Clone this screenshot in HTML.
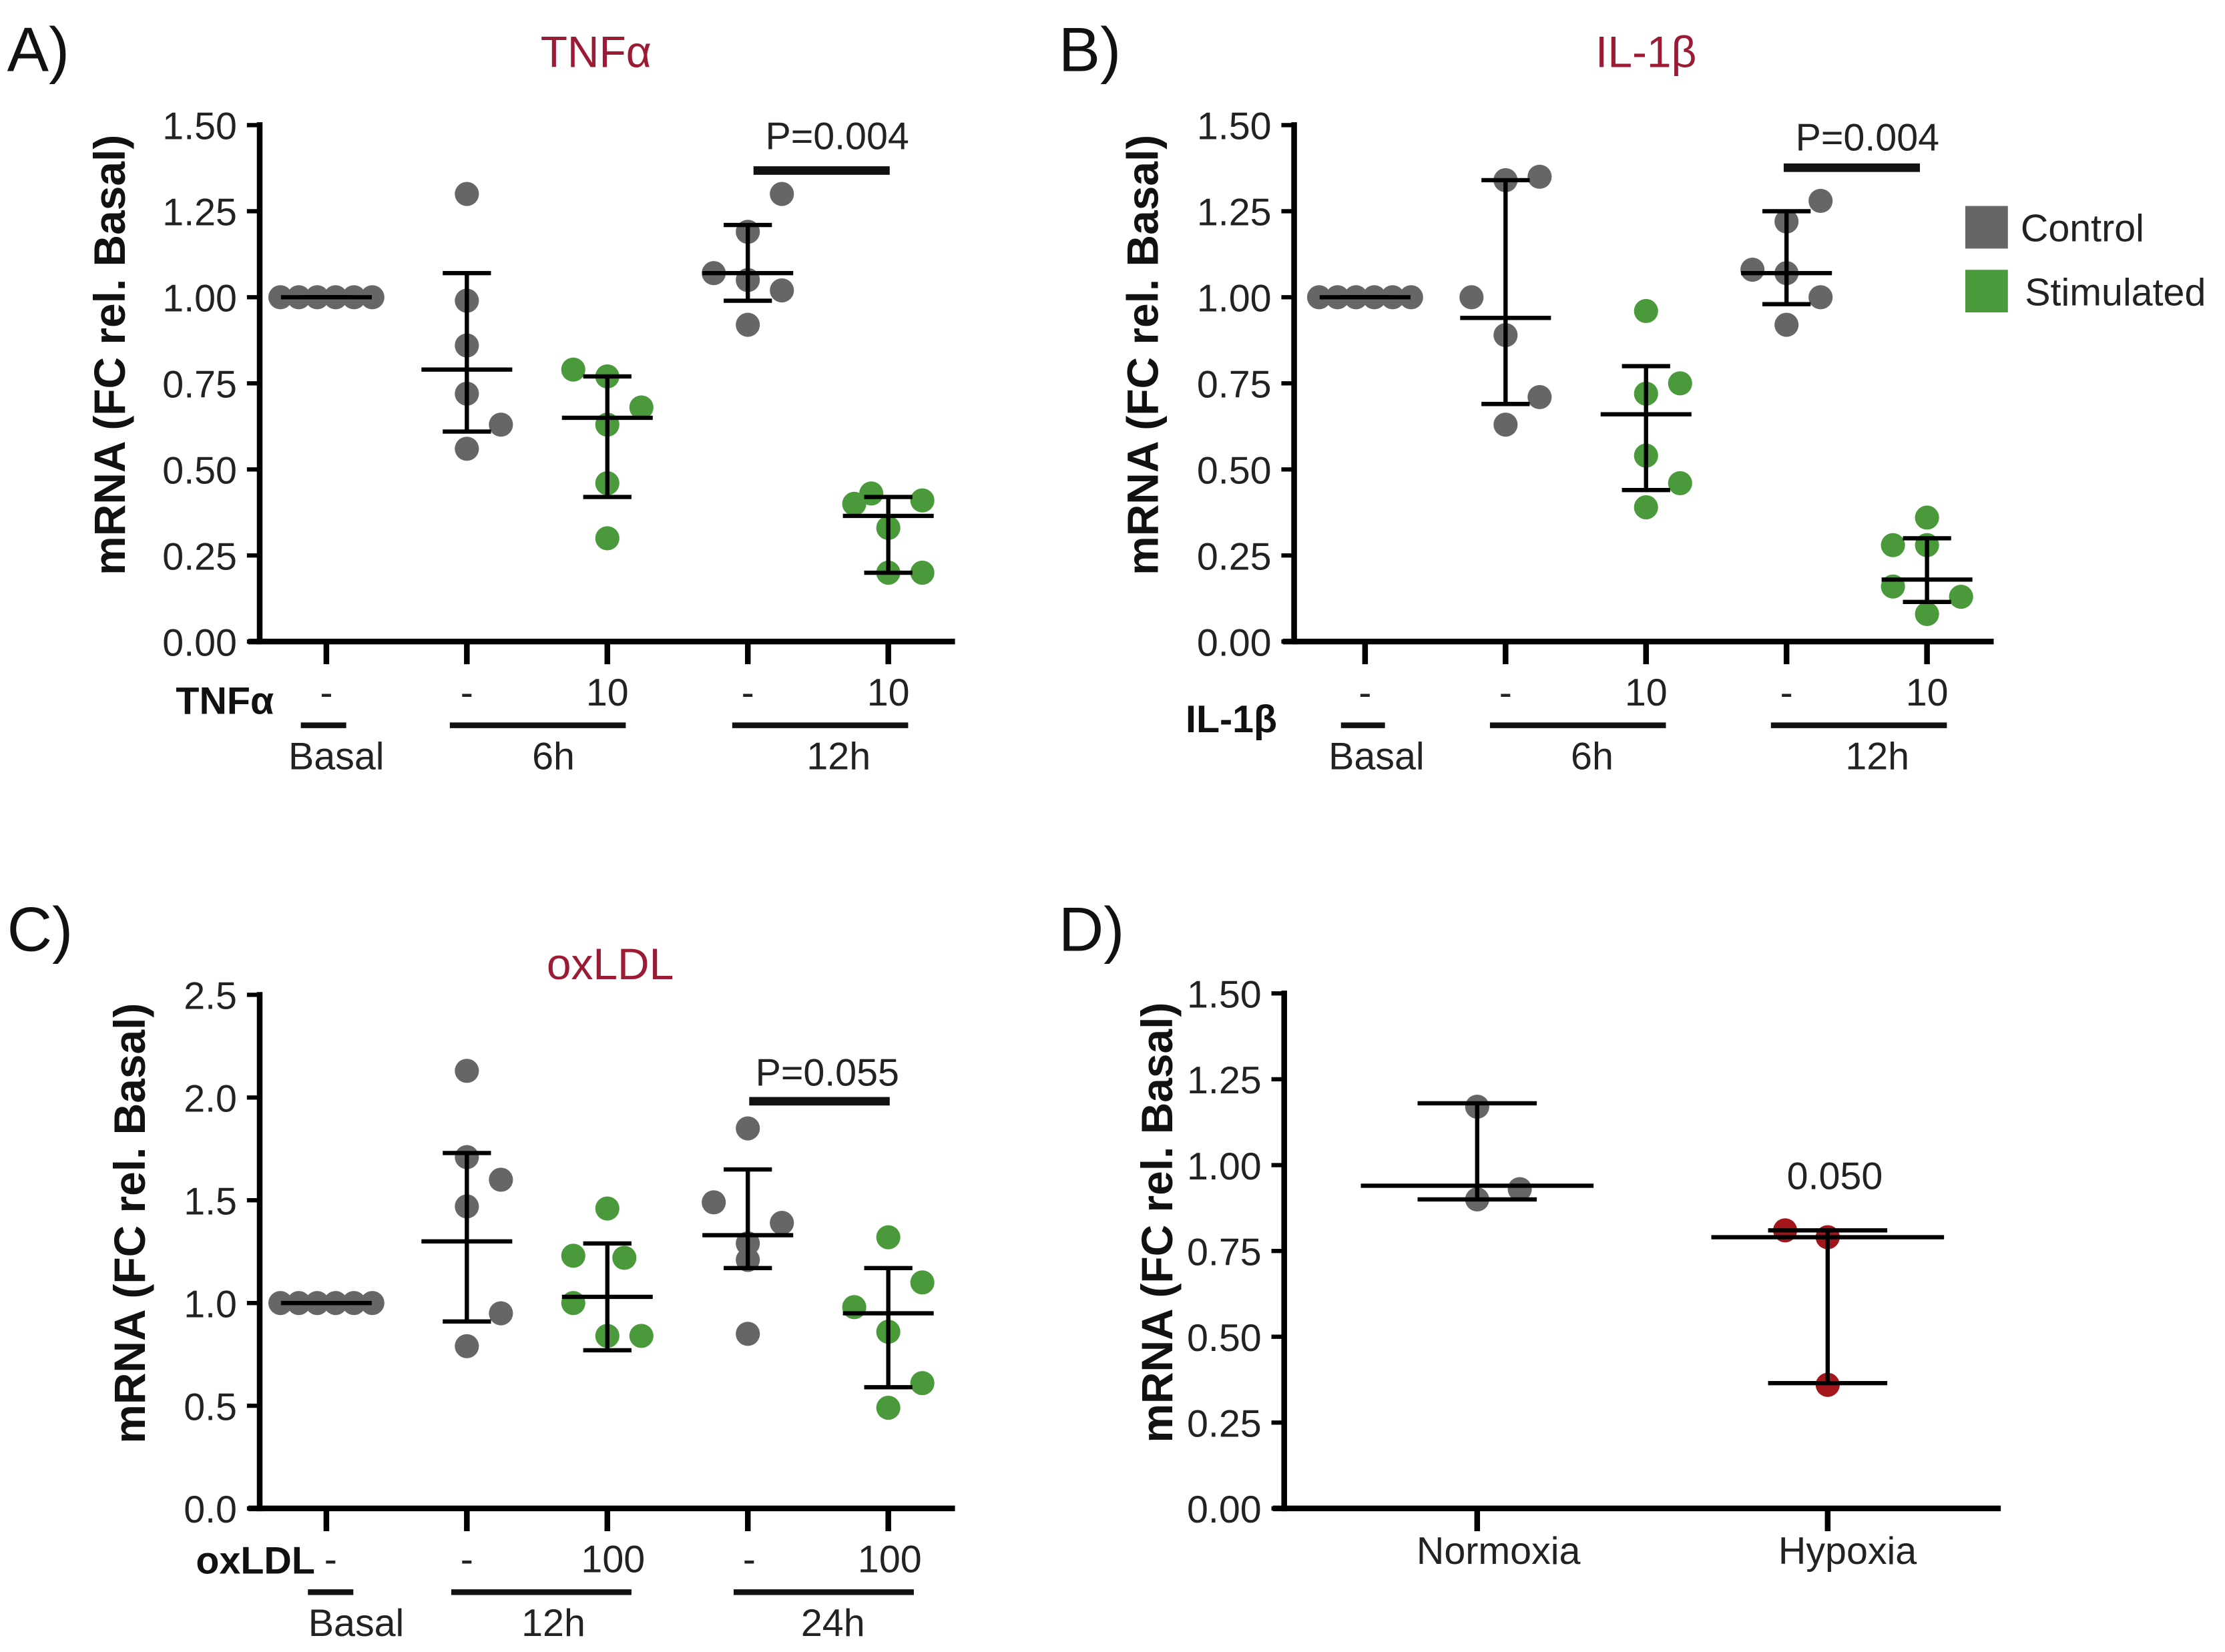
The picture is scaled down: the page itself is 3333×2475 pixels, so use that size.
<!DOCTYPE html>
<html><head><meta charset="utf-8">
<style>
html,body{margin:0;padding:0;background:#fff;}
svg{display:block;font-family:"Liberation Sans",sans-serif;}
</style></head>
<body>
<svg id="fig" width="3333" height="2475" viewBox="0 0 1568 1164" xmlns="http://www.w3.org/2000/svg"></svg>
<script>
// ---- Panel A (TNFα) data ----
const aGroups = ["Basal","6h -","6h 10","12h -","12h 10"];
const aPoints = [[1,1,1,1,1,1],[1.30,0.99,0.86,0.72,0.63,0.56],[0.79,0.77,0.68,0.63,0.46,0.30],[1.30,1.19,1.07,1.05,1.02,0.92],[0.43,0.40,0.41,0.33,0.20,0.20]];
const aMean = [1.00,0.79,0.65,1.07,0.365];
const aHi = [1.00,1.07,0.77,1.21,0.42];
const aLo = [1.00,0.61,0.42,0.99,0.20];
// ---- Panel B (IL-1β) data ----
const bPoints = [[1,1,1,1,1,1],[1.35,1.34,1.00,0.89,0.71,0.63],[0.96,0.72,0.75,0.54,0.46,0.39],[1.28,1.22,1.08,1.07,1.00,0.92],[0.36,0.28,0.28,0.16,0.13,0.08]];
const bMean = [1.00,0.94,0.66,1.07,0.18];
const bHi = [1.00,1.34,0.80,1.25,0.30];
const bLo = [1.00,0.69,0.44,0.98,0.115];
// ---- Panel C (oxLDL) data ----
const cPoints = [[1,1,1,1,1,1],[2.13,1.71,1.60,1.47,0.95,0.79],[1.46,1.23,1.22,1.00,0.84,0.84],[1.85,1.49,1.39,1.29,1.21,0.85],[1.32,1.10,0.98,0.86,0.61,0.49]];
const cMean = [1.00,1.30,1.03,1.33,0.95];
const cHi = [1.00,1.73,1.29,1.65,1.17];
const cLo = [1.00,0.91,0.77,1.17,0.59];
// ---- Panel D data ----
const dCats = ["Normoxia","Hypoxia"];
const dPoints = [[1.17,0.90,0.93],[0.81,0.79,0.36]];
const dMean = [0.94,0.79];
const dHi = [1.18,0.81];
const dLo = [0.90,0.365];
const tickA = ["0.00","0.25","0.50","0.75","1.00","1.25","1.50"];
const tickC = ["0.0","0.5","1.0","1.5","2.0","2.5"];

// layout-only jitter (in dot-widths)
const BAS=[-1.35,-0.81,-0.27,0.27,0.81,1.35];
const aOffs=[BAS,[0,0,0,0,1,0],[-1,0,1,0,0,0],[1,0,-1,0,1,0],[-0.5,-1,1,0,0,1]];
const bOffs=[BAS,[1,0,-1,0,1,0],[0,0,1,0,1,0],[1,0,-1,0,1,0],[0,-1,0,-1,1,0]];
const cOffs=[BAS,[0,0,1,0,1,0],[0,-1,0.5,-1,0,1],[0,-1,1,0,0,0],[0,1,-1,0,1,0]];

const NS="http://www.w3.org/2000/svg";
const svg=document.getElementById('fig');
const GRAY="#666666", GREEN="#4a9a3c", RED="#a3161b", TITLE="#9b1b35";
function el(tag,attrs,parent){const e=document.createElementNS(NS,tag);for(const k in attrs)e.setAttribute(k,attrs[k]);(parent||svg).appendChild(e);return e;}
function txt(s,x,y,size,opts,parent){opts=opts||{};const t=el('text',{x:x,y:y,'font-size':size,'text-anchor':opts.anchor||'middle',fill:opts.fill||'#222','font-weight':opts.bold?'bold':'normal'},parent);if(opts.rot)t.setAttribute('transform','rotate(-90 '+x+' '+y+')');t.textContent=s;return t;}

function panel(cfg){
  const g=el('g',{});
  
  
  const y=v=>cfg.y0-(v-cfg.vmin)/(cfg.vmax-cfg.vmin)*(cfg.y0-cfg.y1);
  const ya=el('line',{x1:cfg.ax,y1:cfg.y1-2,x2:cfg.ax,y2:cfg.y0+2,stroke:'#000','stroke-width':4},g);
  
  const xa=el('line',{x1:cfg.ax-8,y1:cfg.y0,x2:cfg.xend,y2:cfg.y0,stroke:'#000','stroke-width':4},g);
  
  cfg.ticks.forEach(t=>{const v=parseFloat(t);const yy=y(v);
    el('line',{x1:cfg.ax-9,y1:yy,x2:cfg.ax,y2:yy,stroke:'#000','stroke-width':3},g);
    const tl=txt(t,cfg.ax-16,yy+10,27,{anchor:'end'},g);
    });
  const yt=txt('mRNA (FC rel. Basal)',cfg.ytx,(cfg.y0+cfg.y1)/2-20,31,{bold:true,rot:true,fill:'#111'},g);
  
  cfg.xs.forEach((x,i)=>{
    el('line',{x1:x,y1:cfg.y0,x2:x,y2:cfg.y0+16,stroke:'#000','stroke-width':4},g);
    const col=cfg.colors[i];
    const vals=cfg.points[i];const off=cfg.offs[i];
    vals.forEach((v,k)=>{const c=el('circle',{cx:x+off[k]*cfg.jw,cy:y(v),r:8.5,fill:col},g);
      });
    el('line',{x1:x,y1:y(cfg.hi[i]),x2:x,y2:y(cfg.lo[i]),stroke:'#000','stroke-width':3},g);
    el('line',{x1:x-cfg.cw,y1:y(cfg.hi[i]),x2:x+cfg.cw,y2:y(cfg.hi[i]),stroke:'#000','stroke-width':3},g);
    el('line',{x1:x-cfg.cw,y1:y(cfg.lo[i]),x2:x+cfg.cw,y2:y(cfg.lo[i]),stroke:'#000','stroke-width':3},g);
    const m=el('line',{x1:x-cfg.mw,y1:y(cfg.mean[i]),x2:x+cfg.mw,y2:y(cfg.mean[i]),stroke:'#000','stroke-width':3},g);
    
  });
  return g;
}
const xsL=[230,329,428,527,626], xsR=[962,1061,1160,1259,1358];
const cols=[GRAY,GRAY,GREEN,GRAY,GREEN];
panel({name:'panel-a',ax:183,xend:673,y0:452,y1:88,vmin:0,vmax:1.5,ticks:tickA,ytx:88,xs:xsL,colors:cols,points:aPoints,mean:aMean,hi:aHi,lo:aLo,mw:32,cw:17,jw:24,offs:aOffs});
panel({name:'panel-b',ax:912,xend:1405,y0:452,y1:88,vmin:0,vmax:1.5,ticks:tickA,ytx:816,xs:xsR,colors:cols,points:bPoints,mean:bMean,hi:bHi,lo:bLo,mw:32,cw:17,jw:24,offs:bOffs});
panel({name:'panel-c',ax:183,xend:673,y0:1063,y1:701,vmin:0,vmax:2.5,ticks:tickC,ytx:102,xs:xsL,colors:cols,points:cPoints,mean:cMean,hi:cHi,lo:cLo,mw:32,cw:17,jw:24,offs:cOffs});
panel({name:'panel-d',ax:905,xend:1410,y0:1063,y1:700,vmin:0,vmax:1.5,ticks:tickA,ytx:826,xs:[1041,1288],colors:[GRAY,RED],points:dPoints,mean:dMean,hi:dHi,lo:dLo,mw:82,cw:42,jw:30,offs:[[0,0,1],[-1,0,0]]});

[["A)",5,50],["B)",746,50],["C)",5,670],["D)",746,670]].forEach(p=>{const t=txt(p[0],p[1],p[2],44,{anchor:'start',fill:'#111'});});
[["TNFα",420,47],["IL-1β",1160,47],["oxLDL",430,690]].forEach(p=>{const t=txt(p[0],p[1],p[2],31,{fill:TITLE});});

function xann(lbl,lx,ly,vals,xs,vy,bars,by,names,ny){
  const l=txt(lbl,lx,ly,27,{anchor:'end',bold:true,fill:'#111'});
  vals.forEach((v,i)=>{txt(v,xs[i],vy,27);});
  bars.forEach((b,i)=>{el('line',{x1:b[0],y1:by,x2:b[1],y2:by,stroke:'#111','stroke-width':4});
    const n=txt(names[i],b[2],ny,27);});
}
xann('TNFα',193,503,['-','-','10','-','10'],xsL,497,[[212,244,237],[317,441,390],[516,640,591]],511,['Basal','6h','12h'],542);
xann('IL-1β',900,516,['-','-','10','-','10'],xsR,497,[[945,976,970],[1050,1174,1122],[1248,1372,1323]],511,['Basal','6h','12h'],542);
xann('oxLDL',222,1109,['-','-','100','-','100'],[233,329,432,528,627],1108,[[217,249,251],[318,445,390],[517,644,587]],1122,['Basal','12h','24h'],1153);
dCats.forEach((c,i)=>{const t=txt(c,[1056,1302][i],1102,27);});

[[531,627,120,590,105,'P=0.004'],[1257,1353,118,1316,106,'P=0.004'],[528,627,776,583,765,'P=0.055']].forEach(s=>{
  const l=el('line',{x1:s[0],y1:s[2],x2:s[1],y2:s[2],stroke:'#111','stroke-width':6});
  
  const t=txt(s[5],s[3],s[4],27);});
const pd=txt('0.050',1293,838,27);

const lg=el('g',{});
el('rect',{x:1385,y:145,width:30,height:30,fill:GRAY},lg);
txt('Control',1424,170,27,{anchor:'start'},lg);
el('rect',{x:1385,y:190,width:30,height:30,fill:GREEN},lg);
txt('Stimulated',1427,215,27,{anchor:'start'},lg);
</script>
</body></html>
